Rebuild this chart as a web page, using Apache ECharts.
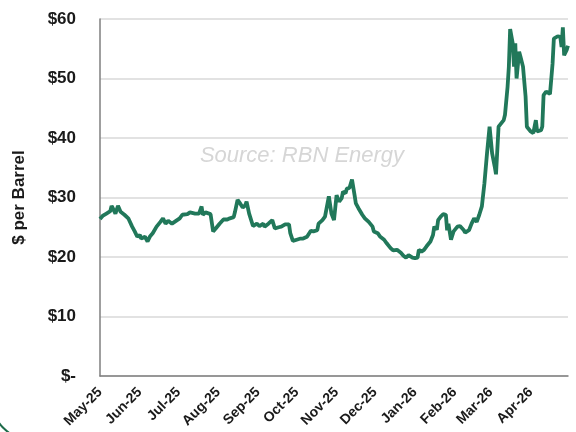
<!DOCTYPE html>
<html>
<head>
<meta charset="utf-8">
<script src="https://cdn.jsdelivr.net/npm/echarts@6/dist/echarts.min.js"></script>
<style>html,body{margin:0;padding:0;background:#fff;}#c{width:576px;height:432px;}</style>
</head>
<body>
<div id="c"></div>
<script>
const dates = [
'2025-05-01','2025-05-03','2025-05-06','2025-05-09','2025-05-10','2025-05-11','2025-05-13','2025-05-15','2025-05-17','2025-05-20','2025-05-23','2025-05-26','2025-05-28','2025-05-30',
'2025-06-01','2025-06-02','2025-06-05','2025-06-07','2025-06-09','2025-06-11','2025-06-14','2025-06-17','2025-06-19','2025-06-21','2025-06-23','2025-06-26','2025-06-28',
'2025-07-02','2025-07-04','2025-07-08','2025-07-10','2025-07-11','2025-07-14','2025-07-17','2025-07-19','2025-07-20','2025-07-22','2025-07-26','2025-07-28','2025-07-30',
'2025-08-02','2025-08-05','2025-08-08','2025-08-10','2025-08-13','2025-08-14','2025-08-16','2025-08-18','2025-08-20','2025-08-22','2025-08-23','2025-08-25','2025-08-28','2025-08-31',
'2025-09-02','2025-09-05','2025-09-06','2025-09-09','2025-09-12','2025-09-14','2025-09-17','2025-09-19','2025-09-22','2025-09-25','2025-09-26','2025-09-28',
'2025-10-01','2025-10-04','2025-10-06','2025-10-09','2025-10-10','2025-10-12','2025-10-14','2025-10-17','2025-10-18','2025-10-21','2025-10-23','2025-10-26','2025-10-28','2025-10-30',
'2025-11-01','2025-11-03','2025-11-05','2025-11-06','2025-11-08','2025-11-09','2025-11-10','2025-11-11','2025-11-13','2025-11-15','2025-11-16','2025-11-18','2025-11-21','2025-11-23','2025-11-26','2025-11-29','2025-11-30',
'2025-12-03','2025-12-05','2025-12-08','2025-12-10','2025-12-13','2025-12-15','2025-12-18','2025-12-21','2025-12-23','2025-12-25','2025-12-27','2025-12-30',
'2026-01-01','2026-01-03','2026-01-04','2026-01-06','2026-01-08','2026-01-10','2026-01-13','2026-01-15','2026-01-16','2026-01-18','2026-01-19','2026-01-21','2026-01-23','2026-01-25','2026-01-26','2026-01-27','2026-01-29','2026-01-31',
'2026-02-03','2026-02-05','2026-02-08','2026-02-09','2026-02-12','2026-02-14','2026-02-16','2026-02-18','2026-02-20','2026-02-22','2026-02-24','2026-02-26','2026-02-28',
'2026-03-02','2026-03-04','2026-03-05','2026-03-07','2026-03-08','2026-03-11','2026-03-12','2026-03-14','2026-03-15','2026-03-16','2026-03-18','2026-03-19','2026-03-20','2026-03-21','2026-03-23','2026-03-24','2026-03-26','2026-03-28','2026-03-29',
'2026-04-01','2026-04-03','2026-04-05','2026-04-06','2026-04-09','2026-04-10','2026-04-11','2026-04-13','2026-04-16','2026-04-18','2026-04-19','2026-04-22','2026-04-24','2026-04-25','2026-04-26','2026-04-27','2026-04-29','2026-04-30'
];
// $ per barrel at each date
const prices = [
26.4,26.9,27.3,27.7,28.6,28.2,27.3,28.6,27.6,27.1,26.5,25.1,24.3,23.4,
23.7,23.1,23.4,22.6,23.5,24.0,25.1,25.9,26.5,25.6,26.1,25.6,25.9,
26.5,27.1,27.2,27.5,27.8,27.3,27.3,28.5,27.1,27.5,27.2,24.3,24.8,
25.6,26.3,26.3,26.5,26.7,27.6,29.6,29.0,28.3,28.7,29.3,27.3,25.2,25.6,
25.2,25.6,25.1,25.6,26.2,24.8,25.0,25.1,25.5,25.5,24.0,22.7,
22.9,23.1,23.1,23.4,23.7,24.4,24.3,24.5,25.6,26.2,26.8,30.2,27.3,26.2,
30.4,29.3,29.9,31.0,30.7,31.5,31.3,31.6,33.0,30.4,29.0,28.2,27.1,26.5,25.9,25.1,24.3,
24.0,23.4,22.9,22.3,21.5,21.1,21.2,20.7,20.2,19.9,20.3,19.9,
19.8,19.9,21.2,20.9,21.2,21.8,22.6,23.7,25.1,24.6,26.2,26.8,27.2,27.1,24.5,25.6,22.9,24.3,
25.1,25.2,24.5,24.1,24.5,25.6,26.5,25.9,27.1,28.5,32.4,37.4,41.9,
37.4,35.2,33.9,41.9,42.2,43.0,43.9,48.6,52.0,58.3,55.9,52.0,55.9,50.0,54.5,53.7,52.0,47.0,41.9,
41.1,40.8,43.0,41.1,41.3,41.9,47.2,47.8,47.4,52.5,56.7,57.1,57.0,55.3,58.6,53.9,54.8,55.5
];
const axisStart = '2025-05-01';
const axisEnd = '2026-04-30';
const yTicks = [0, 10, 20, 30, 40, 50, 60];
const monthNames = ['Jan','Feb','Mar','Apr','May','Jun','Jul','Aug','Sep','Oct','Nov','Dec'];

// daily category list spanning the axis
function pad(n){return (n<10?'0':'')+n;}
const days = [];
(function(){
  const d = new Date(axisStart + 'T00:00:00Z');
  const e = new Date(axisEnd + 'T00:00:00Z');
  while (d <= e) {
    days.push(d.getUTCFullYear()+'-'+pad(d.getUTCMonth()+1)+'-'+pad(d.getUTCDate()));
    d.setUTCDate(d.getUTCDate()+1);
  }
})();
const seriesData = dates.map((d,i)=>[d, prices[i]]);

const chart = echarts.init(document.getElementById('c'), null, {renderer:'canvas'});
const FONT = '"Liberation Sans", Arial, sans-serif';
chart.setOption({
  animation: false,
  backgroundColor: '#ffffff',
  grid: {left: 100, right: 8, top: 19, bottom: 56, containLabel: false},
  xAxis: {
    type: 'category',
    data: days,
    boundaryGap: false,
    axisLine: {show: true, lineStyle: {color: '#7f7f7f', width: 1.5}},
    axisTick: {show: false},
    splitLine: {show: false},
    axisLabel: {
      interval: (idx, val) => val.slice(8) === '01',
      rotate: 45,
      margin: 14,
      color: '#1a1a1a',
      fontFamily: FONT,
      fontWeight: 'bold',
      fontSize: 14,
      formatter: (val) => monthNames[parseInt(val.slice(5,7),10)-1] + '-' + val.slice(2,4)
    }
  },
  yAxis: {
    type: 'value',
    min: yTicks[0],
    max: yTicks[yTicks.length-1],
    interval: 10,
    name: '$ per Barrel',
    nameLocation: 'middle',
    nameRotate: 90,
    nameGap: 72,
    nameTextStyle: {color: '#1a1a1a', fontFamily: FONT, fontWeight: 'bold', fontSize: 17},
    axisLine: {show: true, lineStyle: {color: '#7f7f7f', width: 1.5}},
    axisTick: {show: false},
    splitLine: {show: true, lineStyle: {color: '#d9d9d9', width: 1.5}},
    axisLabel: {
      margin: 24,
      color: '#1a1a1a',
      fontFamily: FONT,
      fontWeight: 'bold',
      fontSize: 17,
      formatter: (v) => v === 0 ? '$-' : '$' + v
    }
  },
  graphic: [
    {
      type: 'text', x: 302, y: 156, z: 0,
      style: {
        text: 'Source: RBN Energy',
        fill: '#d6d6d6', font: 'italic 22px "Liberation Sans", Arial, sans-serif',
        align: 'center', verticalAlign: 'middle'
      }
    },
    {
      type: 'rect', silent: true, z: 10,
      shape: {x: -8, y: -40, width: 700, height: 480, r: 40},
      style: {fill: 'none', stroke: '#1e6b4a', lineWidth: 2}
    }
  ],
  series: [{
    type: 'line',
    data: seriesData,
    showSymbol: false,
    lineStyle: {color: '#21785a', width: 3.8},
    itemStyle: {color: '#21785a'},
    z: 5
  }]
});
</script>
</body>
</html>
